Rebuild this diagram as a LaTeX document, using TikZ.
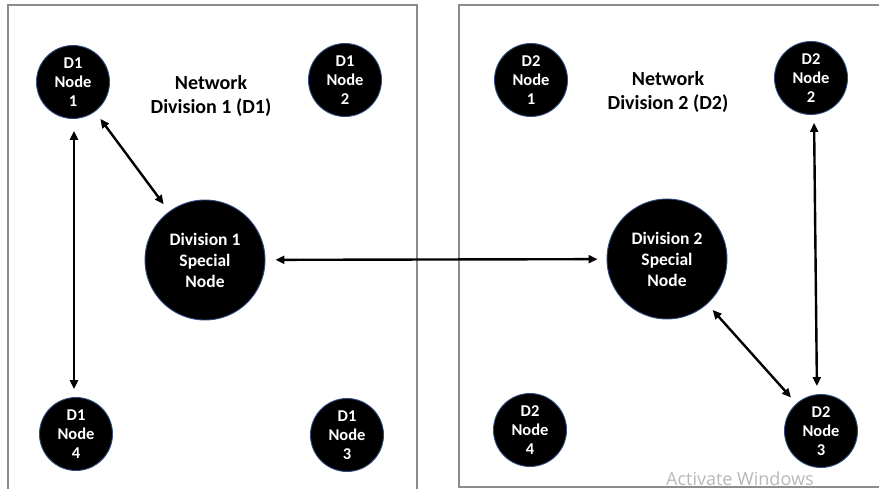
\documentclass[tikz,border=0pt]{standalone}
\usepackage{fontspec}
\setmainfont{Carlito}
\newfontfamily\wmfont{Open Sans}
\usetikzlibrary{arrows.meta}
\definecolor{nodeedge}{HTML}{2F4A80}
\definecolor{boxgray}{HTML}{8C8C8C}
\tikzset{
  pnode/.style={circle, fill=black, draw=nodeedge, line width=0.9pt, text=white,
    minimum size=73pt, inner sep=0pt, align=center,
    font=\fontsize{16.5pt}{19pt}\selectfont\bfseries},
  snode/.style={pnode, minimum size=120pt,
    font=\fontsize{17.5pt}{21pt}\selectfont\bfseries},
  divlabel/.style={align=center, font=\fontsize{20pt}{24.5pt}\selectfont\bfseries},
  divbox/.style={draw=boxgray, line width=1.3pt},
  link/.style={line width=2.4pt, {Triangle[length=9pt,width=8pt]}-{Triangle[length=9pt,width=8pt]}}
}
\begin{document}
\begin{tikzpicture}[x=1pt,y=-1pt]
\path[use as bounding box] (0,0) rectangle (879,489);
\clip (0,0) rectangle (879,489);
\fill[white] (0,0) rectangle (879,489);
% division boxes
\draw[divbox] (8,5) rectangle (417,500);
\draw[divbox] (459,5) rectangle (895,487);
% labels
\node[divlabel] (lab1) at (211,96) {Network\\Division 1 (D1)};
\node[divlabel] (lab2) at (668,92) {Network\\Division 2 (D2)};
% division 1 nodes
\node[pnode] (a1) at (73,82) {D1\\Node\\1};
\node[pnode] (a2) at (345,80) {D1\\Node\\2};
\node[pnode] (a3) at (347,435) {D1\\Node\\3};
\node[pnode] (a4) at (76,434) {D1\\Node\\4};
\node[snode] (s1) at (205,260) {Division 1\\Special\\Node};
% division 2 nodes
\node[pnode] (b1) at (531,80) {D2\\Node\\1};
\node[pnode] (b2) at (811,78) {D2\\Node\\2};
\node[pnode] (b3) at (821,431) {D2\\Node\\3};
\node[pnode] (b4) at (530,430) {D2\\Node\\4};
\node[snode] (s2) at (667,259) {Division 2\\Special\\Node};
% connectors
\draw[link, shorten <=12pt, shorten >=8pt] ([xshift=1pt]a1.south) -- ([xshift=-2pt]a4.north);
\draw[link, shorten <=9pt, shorten >=9pt] (a1) -- (s1);
\draw[link, shorten <=10pt, shorten >=9pt] (s1) -- (s2);
\draw[link, shorten <=8pt, shorten >=8pt] ([xshift=3pt]b2.south) -- ([xshift=-4pt]b3.north);
\draw[link, shorten <=8pt, shorten >=8pt] (s2) -- (b3);
% watermark
\node[anchor=base west, inner sep=0pt, text=black!28, font=\wmfont\fontsize{18pt}{20pt}\selectfont] (wm) at (666,485) {Activate Windows};
\end{tikzpicture}
\end{document}
